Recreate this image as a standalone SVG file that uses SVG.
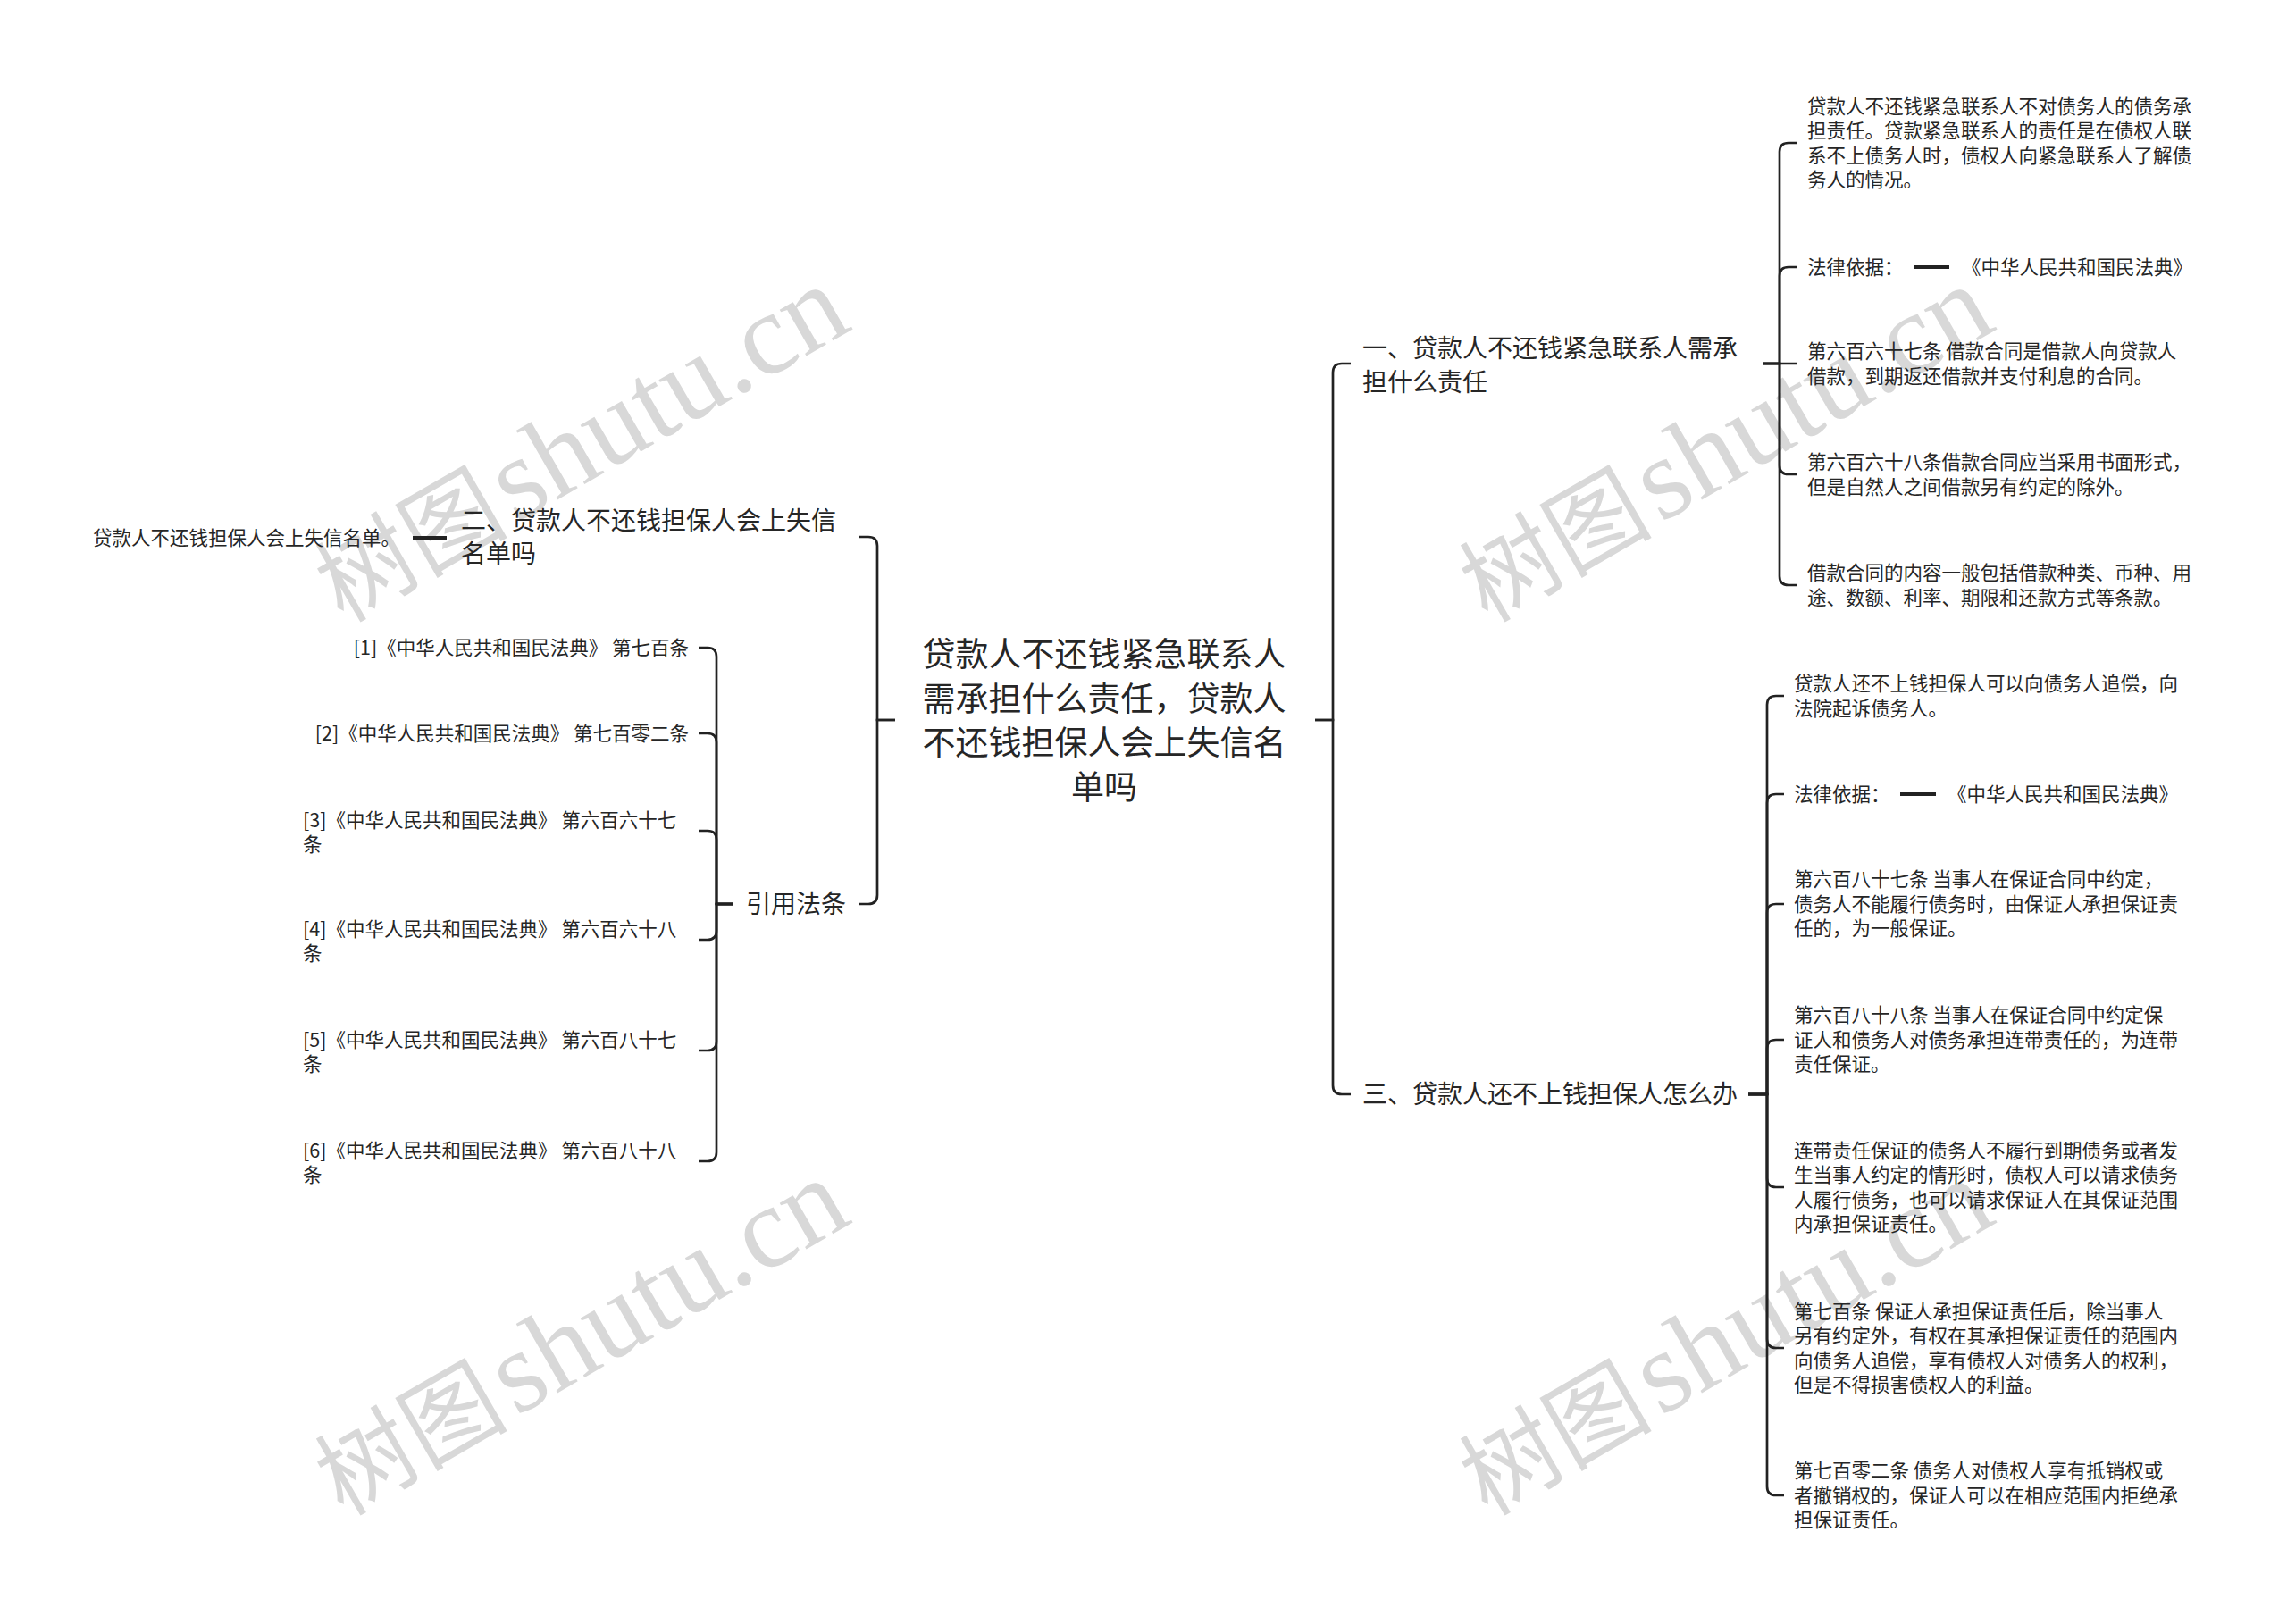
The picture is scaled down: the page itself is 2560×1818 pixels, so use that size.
<svg xmlns="http://www.w3.org/2000/svg" width="2560" height="1818" viewBox="0 0 2560 1818">
<style>
.t{font-family:"Noto Sans CJK SC","Noto Sans",sans-serif;fill:#262626}
.s{font-size:21.5px}
.m{font-size:28px}
.r{font-size:37px}
.c{fill:none;stroke:#222;stroke-width:2.7}
.d{fill:none;stroke:#222;stroke-width:4}
.wm{fill:#d8d8d8}
.wc{font-family:"Noto Sans CJK SC",sans-serif;font-size:108px}
.wl{font-family:"Liberation Serif",serif;font-size:130px}
</style>
<rect width="2560" height="1818" fill="#fff"/>
<g id="watermarks">
<text class="wm" x="384" y="698" transform="rotate(-30 384 698)"><tspan class="wc">树图</tspan><tspan class="wl" dx="8">shutu.cn</tspan></text>
<text class="wm" x="384" y="1698" transform="rotate(-30 384 1698)"><tspan class="wc">树图</tspan><tspan class="wl" dx="8">shutu.cn</tspan></text>
<text class="wm" x="1665" y="698" transform="rotate(-30 1665 698)"><tspan class="wc">树图</tspan><tspan class="wl" dx="8">shutu.cn</tspan></text>
<text class="wm" x="1665" y="1698" transform="rotate(-30 1665 1698)"><tspan class="wc">树图</tspan><tspan class="wl" dx="8">shutu.cn</tspan></text>
</g>
<g id="connectors">
<path class="c" d="M1002 806H982V611Q982 601 972 601H962"/>
<path class="c" d="M1002 806H982V1002Q982 1012 972 1012H962"/>
<path class="c" d="M1472 806H1492V417Q1492 407 1502 407H1512"/>
<path class="c" d="M1472 806H1492V1215Q1492 1225 1502 1225H1512"/>
<path class="d" d="M500 602H462"/>
<path class="c" d="M821 1012H802V735Q802 725 792 725H782"/>
<path class="c" d="M821 1012H802V831Q802 821 792 821H782"/>
<path class="c" d="M821 1012H802V940Q802 930 792 930H782"/>
<path class="c" d="M821 1012H802V1042Q802 1052 792 1052H782"/>
<path class="c" d="M821 1012H802V1166Q802 1176 792 1176H782"/>
<path class="c" d="M821 1012H802V1290Q802 1300 792 1300H782"/>
<path class="c" d="M1973 407H1992V170Q1992 160 2002 160H2012"/>
<path class="c" d="M1973 407H1992V309Q1992 299 2002 299H2012"/>
<path class="c" d="M1973 407H2012"/>
<path class="c" d="M1973 407H1992V521Q1992 531 2002 531H2012"/>
<path class="c" d="M1973 407H1992V645Q1992 655 2002 655H2012"/>
<path class="d" d="M2143 299H2182"/>
<path class="c" d="M1957 1225H1978V789Q1978 779 1988 779H1997"/>
<path class="c" d="M1957 1225H1978V899Q1978 889 1988 889H1997"/>
<path class="c" d="M1957 1225H1978V1022Q1978 1012 1988 1012H1997"/>
<path class="c" d="M1957 1225H1978V1174Q1978 1164 1988 1164H1997"/>
<path class="c" d="M1957 1225H1978V1319Q1978 1329 1988 1329H1997"/>
<path class="c" d="M1957 1225H1978V1499Q1978 1509 1988 1509H1997"/>
<path class="c" d="M1957 1225H1978V1664Q1978 1674 1988 1674H1997"/>
<path class="d" d="M2127 889H2167"/>
</g>
<g id="root"><text class="t r" text-anchor="middle"><tspan x="1236" y="746">贷款人不还钱紧急联系人</tspan><tspan x="1236" y="795.5">需承担什么责任，贷款人</tspan><tspan x="1236" y="845">不还钱担保人会上失信名</tspan><tspan x="1236" y="894.5">单吗</tspan></text></g>
<g id="n2"><text class="t m"><tspan x="516" y="593">二、贷款人不还钱担保人会上失信</tspan><tspan x="516" y="630">名单吗</tspan></text></g>
<g id="n2-1"><text class="t s" x="104" y="609.7">贷款人不还钱担保人会上失信名单。</text></g>
<g id="cite"><text class="t m" x="835" y="1022">引用法条</text></g>
<g id="cite-1"><text class="t s" x="771" y="732.7" text-anchor="end">[1]《中华人民共和国民法典》 第七百条</text></g>
<g id="cite-2"><text class="t s" x="771" y="828.7" text-anchor="end">[2]《中华人民共和国民法典》 第七百零二条</text></g>
<g id="cite-3"><text class="t s"><tspan x="339" y="925.7">[3]《中华人民共和国民法典》 第六百六十七</tspan><tspan x="339" y="952.7">条</tspan></text></g>
<g id="cite-4"><text class="t s"><tspan x="339" y="1047.7">[4]《中华人民共和国民法典》 第六百六十八</tspan><tspan x="339" y="1074.7">条</tspan></text></g>
<g id="cite-5"><text class="t s"><tspan x="339" y="1171.7">[5]《中华人民共和国民法典》 第六百八十七</tspan><tspan x="339" y="1198.7">条</tspan></text></g>
<g id="cite-6"><text class="t s"><tspan x="339" y="1295.7">[6]《中华人民共和国民法典》 第六百八十八</tspan><tspan x="339" y="1322.7">条</tspan></text></g>
<g id="n1"><text class="t m"><tspan x="1525" y="400">一、贷款人不还钱紧急联系人需承</tspan><tspan x="1525" y="438">担什么责任</tspan></text></g>
<g id="n1-1"><text class="t s"><tspan x="2023" y="126.5">贷款人不还钱紧急联系人不对债务人的债务承</tspan><tspan x="2023" y="154">担责任。贷款紧急联系人的责任是在债权人联</tspan><tspan x="2023" y="181.5">系不上债务人时，债权人向紧急联系人了解债</tspan><tspan x="2023" y="209">务人的情况。</tspan></text></g>
<g id="n1-2"><text class="t s" x="2023" y="306.7">法律依据：</text></g>
<g id="n1-2-1"><text class="t s" x="2196" y="306.7">《中华人民共和国民法典》</text></g>
<g id="n1-3"><text class="t s"><tspan x="2023" y="401">第六百六十七条 借款合同是借款人向贷款人</tspan><tspan x="2023" y="428.5">借款，到期返还借款并支付利息的合同。</tspan></text></g>
<g id="n1-4"><text class="t s"><tspan x="2023" y="525">第六百六十八条借款合同应当采用书面形式，</tspan><tspan x="2023" y="552.5">但是自然人之间借款另有约定的除外。</tspan></text></g>
<g id="n1-5"><text class="t s"><tspan x="2023" y="649">借款合同的内容一般包括借款种类、币种、用</tspan><tspan x="2023" y="676.5">途、数额、利率、期限和还款方式等条款。</tspan></text></g>
<g id="n3"><text class="t m" x="1525" y="1235">三、贷款人还不上钱担保人怎么办</text></g>
<g id="n3-1"><text class="t s"><tspan x="2008" y="773">贷款人还不上钱担保人可以向债务人追偿，向</tspan><tspan x="2008" y="800.5">法院起诉债务人。</tspan></text></g>
<g id="n3-2"><text class="t s" x="2008" y="896.7">法律依据：</text></g>
<g id="n3-2-1"><text class="t s" x="2180" y="896.7">《中华人民共和国民法典》</text></g>
<g id="n3-3"><text class="t s"><tspan x="2008" y="992.2">第六百八十七条 当事人在保证合同中约定，</tspan><tspan x="2008" y="1019.7">债务人不能履行债务时，由保证人承担保证责</tspan><tspan x="2008" y="1047.2">任的，为一般保证。</tspan></text></g>
<g id="n3-4"><text class="t s"><tspan x="2008" y="1144.2">第六百八十八条 当事人在保证合同中约定保</tspan><tspan x="2008" y="1171.7">证人和债务人对债务承担连带责任的，为连带</tspan><tspan x="2008" y="1199.2">责任保证。</tspan></text></g>
<g id="n3-5"><text class="t s"><tspan x="2008" y="1295.5">连带责任保证的债务人不履行到期债务或者发</tspan><tspan x="2008" y="1323">生当事人约定的情形时，债权人可以请求债务</tspan><tspan x="2008" y="1350.5">人履行债务，也可以请求保证人在其保证范围</tspan><tspan x="2008" y="1378">内承担保证责任。</tspan></text></g>
<g id="n3-6"><text class="t s"><tspan x="2008" y="1475.5">第七百条 保证人承担保证责任后，除当事人</tspan><tspan x="2008" y="1503">另有约定外，有权在其承担保证责任的范围内</tspan><tspan x="2008" y="1530.5">向债务人追偿，享有债权人对债务人的权利，</tspan><tspan x="2008" y="1558">但是不得损害债权人的利益。</tspan></text></g>
<g id="n3-7"><text class="t s"><tspan x="2008" y="1654.2">第七百零二条 债务人对债权人享有抵销权或</tspan><tspan x="2008" y="1681.7">者撤销权的，保证人可以在相应范围内拒绝承</tspan><tspan x="2008" y="1709.2">担保证责任。</tspan></text></g>
</svg>
